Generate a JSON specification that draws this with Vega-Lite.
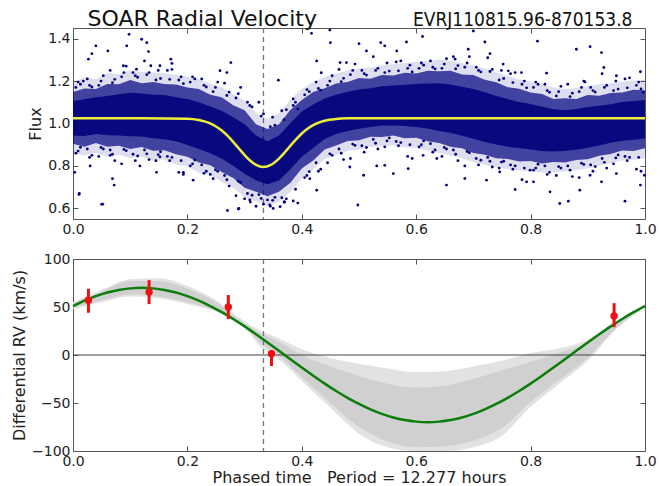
{
  "$schema": "https://vega.github.io/schema/vega-lite/v6.json",
  "padding": {"left": 11, "top": 6, "right": 2, "bottom": 0},
  "background": "white",
  "spacing": 14,
  "config": {
    "font": "DejaVu Sans",
    "view": {"stroke": "#555", "strokeWidth": 1},
    "axis": {
      "grid": false, "domain": false,
      "labelFont": "DejaVu Sans", "labelFontSize": 14, "labelColor": "#222",
      "titleFont": "DejaVu Sans", "titleFontSize": 16, "titleFontWeight": "normal", "titleColor": "#222",
      "tickColor": "#555", "tickSize": -5, "labelPadding": 8, "labelFlush": false, "labelOverlap": false
    }
  },
  "datasets": {
    "band": [
      {"x":0.00,"b":0.905,"t":1.148,"bi":0.944,"ti":1.106,"bo":0.862,"to":1.195},
      {"x":0.02,"b":0.890,"t":1.165,"bi":0.941,"ti":1.114,"bo":0.848,"to":1.218},
      {"x":0.04,"b":0.908,"t":1.163,"bi":0.951,"ti":1.124,"bo":0.861,"to":1.209},
      {"x":0.06,"b":0.890,"t":1.186,"bi":0.945,"ti":1.130,"bo":0.842,"to":1.238},
      {"x":0.08,"b":0.895,"t":1.185,"bi":0.943,"ti":1.138,"bo":0.852,"to":1.232},
      {"x":0.10,"b":0.880,"t":1.205,"bi":0.940,"ti":1.145,"bo":0.838,"to":1.251},
      {"x":0.12,"b":0.889,"t":1.190,"bi":0.939,"ti":1.141,"bo":0.843,"to":1.243},
      {"x":0.14,"b":0.872,"t":1.196,"bi":0.930,"ti":1.135,"bo":0.826,"to":1.240},
      {"x":0.16,"b":0.874,"t":1.186,"bi":0.926,"ti":1.134,"bo":0.830,"to":1.238},
      {"x":0.18,"b":0.855,"t":1.184,"bi":0.916,"ti":1.124,"bo":0.806,"to":1.229},
      {"x":0.20,"b":0.843,"t":1.170,"bi":0.899,"ti":1.116,"bo":0.799,"to":1.222},
      {"x":0.22,"b":0.816,"t":1.163,"bi":0.880,"ti":1.100,"bo":0.768,"to":1.208},
      {"x":0.24,"b":0.803,"t":1.136,"bi":0.860,"ti":1.080,"bo":0.759,"to":1.188},
      {"x":0.26,"b":0.771,"t":1.124,"bi":0.835,"ti":1.060,"bo":0.724,"to":1.171},
      {"x":0.28,"b":0.743,"t":1.086,"bi":0.801,"ti":1.029,"bo":0.697,"to":1.138},
      {"x":0.30,"b":0.697,"t":1.063,"bi":0.763,"ti":0.997,"bo":0.652,"to":1.108},
      {"x":0.32,"b":0.678,"t":0.996,"bi":0.732,"ti":0.943,"bo":0.632,"to":1.049},
      {"x":0.34,"b":0.657,"t":0.974,"bi":0.714,"ti":0.916,"bo":0.611,"to":1.020},
      {"x":0.36,"b":0.678,"t":0.996,"bi":0.732,"ti":0.943,"bo":0.630,"to":1.048},
      {"x":0.38,"b":0.721,"t":1.064,"bi":0.784,"ti":1.001,"bo":0.677,"to":1.112},
      {"x":0.40,"b":0.788,"t":1.111,"bi":0.843,"ti":1.057,"bo":0.741,"to":1.163},
      {"x":0.42,"b":0.826,"t":1.149,"bi":0.885,"ti":1.090,"bo":0.783,"to":1.195},
      {"x":0.44,"b":0.878,"t":1.166,"bi":0.927,"ti":1.118,"bo":0.831,"to":1.219},
      {"x":0.46,"b":0.896,"t":1.189,"bi":0.950,"ti":1.135,"bo":0.852,"to":1.236},
      {"x":0.48,"b":0.918,"t":1.196,"bi":0.965,"ti":1.150,"bo":0.871,"to":1.249},
      {"x":0.50,"b":0.921,"t":1.214,"bi":0.975,"ti":1.160,"bo":0.878,"to":1.260},
      {"x":0.52,"b":0.938,"t":1.211,"bi":0.984,"ti":1.166,"bo":0.891,"to":1.264},
      {"x":0.54,"b":0.936,"t":1.229,"bi":0.990,"ti":1.175,"bo":0.893,"to":1.275},
      {"x":0.56,"b":0.943,"t":1.226,"bi":0.991,"ti":1.179,"bo":0.896,"to":1.279},
      {"x":0.58,"b":0.931,"t":1.239,"bi":0.988,"ti":1.183,"bo":0.887,"to":1.285},
      {"x":0.60,"b":0.933,"t":1.236,"bi":0.984,"ti":1.186,"bo":0.885,"to":1.290},
      {"x":0.62,"b":0.916,"t":1.249,"bi":0.977,"ti":1.188,"bo":0.873,"to":1.296},
      {"x":0.64,"b":0.908,"t":1.246,"bi":0.965,"ti":1.190,"bo":0.861,"to":1.301},
      {"x":0.66,"b":0.891,"t":1.249,"bi":0.956,"ti":1.184,"bo":0.848,"to":1.295},
      {"x":0.68,"b":0.883,"t":1.231,"bi":0.942,"ti":1.173,"bo":0.836,"to":1.284},
      {"x":0.70,"b":0.861,"t":1.228,"bi":0.928,"ti":1.162,"bo":0.818,"to":1.273},
      {"x":0.72,"b":0.853,"t":1.206,"bi":0.913,"ti":1.147,"bo":0.806,"to":1.259},
      {"x":0.74,"b":0.836,"t":1.194,"bi":0.901,"ti":1.129,"bo":0.793,"to":1.240},
      {"x":0.76,"b":0.833,"t":1.171,"bi":0.890,"ti":1.115,"bo":0.786,"to":1.224},
      {"x":0.78,"b":0.821,"t":1.164,"bi":0.884,"ti":1.101,"bo":0.778,"to":1.209},
      {"x":0.80,"b":0.823,"t":1.146,"bi":0.878,"ti":1.092,"bo":0.775,"to":1.198},
      {"x":0.82,"b":0.811,"t":1.139,"bi":0.871,"ti":1.079,"bo":0.769,"to":1.184},
      {"x":0.84,"b":0.818,"t":1.116,"bi":0.868,"ti":1.067,"bo":0.770,"to":1.170},
      {"x":0.86,"b":0.816,"t":1.119,"bi":0.871,"ti":1.063,"bo":0.774,"to":1.163},
      {"x":0.88,"b":0.828,"t":1.116,"bi":0.876,"ti":1.068,"bo":0.781,"to":1.169},
      {"x":0.90,"b":0.831,"t":1.134,"bi":0.886,"ti":1.078,"bo":0.788,"to":1.178},
      {"x":0.92,"b":0.848,"t":1.131,"bi":0.896,"ti":1.084,"bo":0.801,"to":1.185},
      {"x":0.94,"b":0.856,"t":1.144,"bi":0.909,"ti":1.091,"bo":0.814,"to":1.190},
      {"x":0.96,"b":0.873,"t":1.146,"bi":0.919,"ti":1.101,"bo":0.826,"to":1.198},
      {"x":0.98,"b":0.871,"t":1.159,"bi":0.924,"ti":1.106,"bo":0.829,"to":1.203},
      {"x":1.00,"b":0.883,"t":1.157,"bi":0.929,"ti":1.111,"bo":0.836,"to":1.206}
    ],
    "pts": [
      {"x":0.005,"y":1.17},{"x":0.025,"y":1.21},{"x":0.045,"y":1.18},{"x":0.065,"y":1.25},{"x":0.085,"y":1.22},
      {"x":0.105,"y":1.24},{"x":0.125,"y":1.295},{"x":0.145,"y":1.205},{"x":0.165,"y":1.25},{"x":0.185,"y":1.205},
      {"x":0.205,"y":1.195},{"x":0.225,"y":1.21},{"x":0.245,"y":1.15},{"x":0.265,"y":1.19},{"x":0.285,"y":1.12},
      {"x":0.305,"y":1.10},{"x":0.325,"y":1.10},{"x":0.345,"y":0.985},{"x":0.365,"y":1.06},{"x":0.385,"y":1.085},
      {"x":0.405,"y":1.135},{"x":0.425,"y":1.195},{"x":0.445,"y":1.18},{"x":0.465,"y":1.255},{"x":0.485,"y":1.23},
      {"x":0.505,"y":1.25},{"x":0.525,"y":1.315},{"x":0.545,"y":1.24},{"x":0.565,"y":1.29},{"x":0.585,"y":1.26},
      {"x":0.605,"y":1.26},{"x":0.625,"y":1.295},{"x":0.645,"y":1.26},{"x":0.665,"y":1.315},{"x":0.685,"y":1.265},
      {"x":0.705,"y":1.265},{"x":0.725,"y":1.31},{"x":0.745,"y":1.205},{"x":0.765,"y":1.235},{"x":0.785,"y":1.185},
      {"x":0.805,"y":1.17},{"x":0.825,"y":1.185},{"x":0.845,"y":1.13},{"x":0.865,"y":1.185},{"x":0.885,"y":1.15},
      {"x":0.905,"y":1.17},{"x":0.925,"y":1.235},{"x":0.945,"y":1.155},{"x":0.965,"y":1.21},{"x":0.985,"y":1.18},
      {"x":0.005,"y":0.86},{"x":0.025,"y":0.88},{"x":0.045,"y":0.845},{"x":0.065,"y":0.875},{"x":0.085,"y":0.81},
      {"x":0.105,"y":0.855},{"x":0.125,"y":0.875},{"x":0.145,"y":0.825},{"x":0.165,"y":0.845},{"x":0.185,"y":0.77},
      {"x":0.205,"y":0.80},{"x":0.225,"y":0.805},{"x":0.245,"y":0.74},{"x":0.265,"y":0.755},{"x":0.285,"y":0.66},
      {"x":0.305,"y":0.67},{"x":0.325,"y":0.665},{"x":0.345,"y":0.61},{"x":0.365,"y":0.65},{"x":0.385,"y":0.635},
      {"x":0.405,"y":0.745},{"x":0.425,"y":0.815},{"x":0.445,"y":0.815},{"x":0.465,"y":0.88},{"x":0.485,"y":0.835},
      {"x":0.505,"y":0.895},{"x":0.525,"y":0.925},{"x":0.545,"y":0.89},{"x":0.565,"y":0.915},{"x":0.585,"y":0.845},
      {"x":0.605,"y":0.89},{"x":0.625,"y":0.905},{"x":0.645,"y":0.845},{"x":0.665,"y":0.875},{"x":0.685,"y":0.80},
      {"x":0.705,"y":0.835},{"x":0.725,"y":0.84},{"x":0.745,"y":0.79},{"x":0.765,"y":0.805},{"x":0.785,"y":0.735},
      {"x":0.805,"y":0.78},{"x":0.825,"y":0.80},{"x":0.845,"y":0.755},{"x":0.865,"y":0.80},{"x":0.885,"y":0.745},
      {"x":0.905,"y":0.805},{"x":0.925,"y":0.835},{"x":0.945,"y":0.81},{"x":0.965,"y":0.845},{"x":0.985,"y":0.785},
      {"x":0.013,"y":1.185},{"x":0.033,"y":1.172},{"x":0.053,"y":1.225},{"x":0.073,"y":1.208},{"x":0.093,"y":1.27},
      {"x":0.113,"y":1.218},{"x":0.133,"y":1.24},{"x":0.153,"y":1.212},{"x":0.173,"y":1.255},{"x":0.193,"y":1.188},
      {"x":0.213,"y":1.21},{"x":0.233,"y":1.172},{"x":0.253,"y":1.195},{"x":0.273,"y":1.148},{"x":0.293,"y":1.17},
      {"x":0.313,"y":1.078},{"x":0.333,"y":1.045},{"x":0.353,"y":0.992},{"x":0.373,"y":1.065},{"x":0.393,"y":1.068},
      {"x":0.413,"y":1.15},{"x":0.433,"y":1.157},{"x":0.453,"y":1.225},{"x":0.473,"y":1.213},{"x":0.493,"y":1.28},
      {"x":0.513,"y":1.228},{"x":0.533,"y":1.26},{"x":0.553,"y":1.247},{"x":0.573,"y":1.295},{"x":0.593,"y":1.243},
      {"x":0.613,"y":1.275},{"x":0.633,"y":1.257},{"x":0.653,"y":1.305},{"x":0.673,"y":1.273},{"x":0.693,"y":1.315},
      {"x":0.713,"y":1.243},{"x":0.733,"y":1.255},{"x":0.753,"y":1.212},{"x":0.773,"y":1.24},{"x":0.793,"y":1.168},
      {"x":0.813,"y":1.185},{"x":0.833,"y":1.147},{"x":0.853,"y":1.175},{"x":0.873,"y":1.143},{"x":0.893,"y":1.20},
      {"x":0.913,"y":1.148},{"x":0.933,"y":1.18},{"x":0.953,"y":1.162},{"x":0.973,"y":1.215},{"x":0.993,"y":1.163},
      {"x":0.013,"y":0.888},{"x":0.033,"y":0.85},{"x":0.053,"y":0.88},{"x":0.073,"y":0.825},{"x":0.093,"y":0.872},
      {"x":0.113,"y":0.847},{"x":0.133,"y":0.83},{"x":0.153,"y":0.867},{"x":0.173,"y":0.84},{"x":0.193,"y":0.76},
      {"x":0.213,"y":0.828},{"x":0.233,"y":0.775},{"x":0.253,"y":0.775},{"x":0.273,"y":0.705},{"x":0.293,"y":0.722},
      {"x":0.313,"y":0.662},{"x":0.333,"y":0.62},{"x":0.353,"y":0.652},{"x":0.373,"y":0.645},{"x":0.393,"y":0.625},
      {"x":0.413,"y":0.773},{"x":0.433,"y":0.785},{"x":0.453,"y":0.85},{"x":0.473,"y":0.83},{"x":0.493,"y":0.897},
      {"x":0.513,"y":0.887},{"x":0.533,"y":0.88},{"x":0.553,"y":0.932},{"x":0.573,"y":0.91},{"x":0.593,"y":0.835},
      {"x":0.613,"y":0.918},{"x":0.633,"y":0.875},{"x":0.653,"y":0.88},{"x":0.673,"y":0.825},{"x":0.693,"y":0.862},
      {"x":0.713,"y":0.827},{"x":0.733,"y":0.795},{"x":0.753,"y":0.822},{"x":0.773,"y":0.80},{"x":0.793,"y":0.725},
      {"x":0.813,"y":0.808},{"x":0.833,"y":0.77},{"x":0.853,"y":0.79},{"x":0.873,"y":0.75},{"x":0.893,"y":0.807},
      {"x":0.913,"y":0.797},{"x":0.933,"y":0.79},{"x":0.953,"y":0.852},{"x":0.973,"y":0.84},{"x":0.993,"y":0.775},
      {"x":0.009,"y":1.195},{"x":0.029,"y":1.18},{"x":0.049,"y":1.20},{"x":0.069,"y":1.192},{"x":0.089,"y":1.24},
      {"x":0.109,"y":1.225},{"x":0.129,"y":1.23},{"x":0.149,"y":1.25},{"x":0.169,"y":1.208},{"x":0.189,"y":1.22},
      {"x":0.209,"y":1.22},{"x":0.229,"y":1.18},{"x":0.249,"y":1.17},{"x":0.269,"y":1.132},{"x":0.289,"y":1.14},
      {"x":0.309,"y":1.085},{"x":0.329,"y":1.035},{"x":0.349,"y":1.03},{"x":0.369,"y":1.018},{"x":0.389,"y":1.10},
      {"x":0.409,"y":1.16},{"x":0.429,"y":1.165},{"x":0.449,"y":1.20},{"x":0.469,"y":1.197},{"x":0.489,"y":1.25},
      {"x":0.509,"y":1.235},{"x":0.529,"y":1.25},{"x":0.549,"y":1.285},{"x":0.569,"y":1.248},{"x":0.589,"y":1.275},
      {"x":0.609,"y":1.285},{"x":0.629,"y":1.265},{"x":0.649,"y":1.28},{"x":0.669,"y":1.257},{"x":0.689,"y":1.285},
      {"x":0.709,"y":1.25},{"x":0.729,"y":1.245},{"x":0.749,"y":1.25},{"x":0.769,"y":1.193},{"x":0.789,"y":1.20},
      {"x":0.809,"y":1.195},{"x":0.829,"y":1.155},{"x":0.849,"y":1.15},{"x":0.869,"y":1.127},{"x":0.889,"y":1.17},
      {"x":0.909,"y":1.155},{"x":0.929,"y":1.17},{"x":0.949,"y":1.20},{"x":0.969,"y":1.168},{"x":0.989,"y":1.195},
      {"x":0.009,"y":0.87},{"x":0.029,"y":0.84},{"x":0.049,"y":0.887},{"x":0.069,"y":0.855},{"x":0.089,"y":0.878},
      {"x":0.109,"y":0.825},{"x":0.129,"y":0.857},{"x":0.149,"y":0.853},{"x":0.169,"y":0.825},{"x":0.189,"y":0.825},
      {"x":0.209,"y":0.81},{"x":0.229,"y":0.765},{"x":0.249,"y":0.782},{"x":0.269,"y":0.735},{"x":0.289,"y":0.728},
      {"x":0.309,"y":0.64},{"x":0.329,"y":0.647},{"x":0.349,"y":0.638},{"x":0.369,"y":0.63},{"x":0.389,"y":0.69},
      {"x":0.409,"y":0.755},{"x":0.429,"y":0.775},{"x":0.449,"y":0.857},{"x":0.469,"y":0.86},{"x":0.489,"y":0.903},
      {"x":0.509,"y":0.865},{"x":0.529,"y":0.907},{"x":0.549,"y":0.918},{"x":0.569,"y":0.895},{"x":0.589,"y":0.90},
      {"x":0.609,"y":0.90},{"x":0.629,"y":0.865},{"x":0.649,"y":0.887},{"x":0.669,"y":0.855},{"x":0.689,"y":0.868},
      {"x":0.709,"y":0.805},{"x":0.729,"y":0.822},{"x":0.749,"y":0.818},{"x":0.769,"y":0.785},{"x":0.789,"y":0.79},
      {"x":0.809,"y":0.79},{"x":0.829,"y":0.76},{"x":0.849,"y":0.797},{"x":0.869,"y":0.78},{"x":0.889,"y":0.813},
      {"x":0.909,"y":0.775},{"x":0.929,"y":0.817},{"x":0.949,"y":0.838},{"x":0.969,"y":0.825},{"x":0.989,"y":0.84},
      {"x":0.098,"y":1.42},{"x":0.12,"y":1.397},{"x":0.129,"y":1.381},{"x":0.04,"y":1.366},{"x":0.094,"y":1.366},
      {"x":0.132,"y":1.339},{"x":0.033,"y":1.329},{"x":0.061,"y":1.342},{"x":0.027,"y":1.303},{"x":0.171,"y":1.303},
      {"x":0.173,"y":1.283},{"x":0.276,"y":1.287},{"x":0.088,"y":1.272},{"x":0.111,"y":1.256},{"x":0.136,"y":1.272},
      {"x":0.152,"y":1.272},{"x":0.257,"y":1.249},{"x":0.269,"y":1.24},{"x":0.018,"y":1.2},
      {"x":0.011,"y":0.67},{"x":0.052,"y":0.62},{"x":0.072,"y":0.71},{"x":0.069,"y":0.74},{"x":0.03,"y":0.80},
      {"x":0.003,"y":0.77},{"x":0.117,"y":0.80},{"x":0.146,"y":0.77},{"x":0.21,"y":0.733},{"x":0.289,"y":0.597},
      {"x":0.24,"y":0.76},{"x":0.193,"y":0.77},{"x":0.065,"y":0.85},{"x":0.152,"y":0.843},
      {"x":0.417,"y":1.425},{"x":0.449,"y":1.44},{"x":0.5,"y":1.376},{"x":0.45,"y":1.381},{"x":0.513,"y":1.342},
      {"x":0.538,"y":1.381},{"x":0.545,"y":1.366},{"x":0.583,"y":1.384},{"x":0.611,"y":1.41},{"x":0.359,"y":1.204},
      {"x":0.385,"y":1.116},{"x":0.426,"y":1.295},{"x":0.434,"y":1.239},{"x":0.467,"y":1.287},{"x":0.478,"y":1.287},
      {"x":0.566,"y":1.342},
      {"x":0.426,"y":0.686},{"x":0.498,"y":0.616},{"x":0.362,"y":0.608},{"x":0.344,"y":0.616},{"x":0.56,"y":0.764},
      {"x":0.545,"y":0.803},{"x":0.586,"y":0.787},{"x":0.612,"y":0.85},{"x":0.508,"y":0.756},{"x":0.531,"y":0.80},
      {"x":0.484,"y":0.795},{"x":0.414,"y":0.74},{"x":0.636,"y":0.835},{"x":0.653,"y":0.71},
      {"x":0.7,"y":1.436},{"x":0.812,"y":1.388},{"x":0.88,"y":1.35},{"x":0.904,"y":1.362},{"x":0.924,"y":1.334},
      {"x":0.729,"y":1.329},{"x":0.72,"y":1.384},{"x":0.691,"y":1.35},{"x":0.668,"y":1.303},{"x":0.752,"y":1.28},
      {"x":0.761,"y":1.248},{"x":0.784,"y":1.24},{"x":0.828,"y":1.237},{"x":0.895,"y":1.196},{"x":0.928,"y":1.264},
      {"x":0.95,"y":1.225},{"x":0.992,"y":1.244},{"x":0.997,"y":1.147},{"x":0.999,"y":0.756},
      {"x":0.851,"y":0.623},{"x":0.866,"y":0.634},{"x":0.965,"y":0.634},{"x":0.886,"y":0.686},{"x":0.834,"y":0.678},
      {"x":0.773,"y":0.689},{"x":0.723,"y":0.733},{"x":0.685,"y":0.741},{"x":0.805,"y":0.725},{"x":0.924,"y":0.725},
      {"x":0.95,"y":0.764},{"x":0.992,"y":0.71},{"x":0.799,"y":0.78},{"x":0.904,"y":0.756},{"x":0.746,"y":0.772},
      {"x":0.0105,"y":0.666},{"x":0.05,"y":0.619},{"x":0.29,"y":0.60},{"x":0.31,"y":0.63},{"x":0.35,"y":0.60},
      {"x":0.32,"y":0.61},{"x":0.37,"y":0.63},{"x":0.27,"y":0.59},{"x":0.30,"y":0.645},{"x":0.34,"y":0.64}
    ],
    "fit": [
      {"x":0.0,"y":1.025},{"x":0.1,"y":1.025},{"x":0.2,"y":1.0226},{"x":0.22,"y":1.0165},{"x":0.24,"y":1.0004},
      {"x":0.25,"y":0.986},{"x":0.26,"y":0.967},{"x":0.27,"y":0.9425},{"x":0.28,"y":0.9137},{"x":0.29,"y":0.8823},
      {"x":0.30,"y":0.8514},{"x":0.31,"y":0.8244},{"x":0.32,"y":0.805},{"x":0.333,"y":0.795},{"x":0.345,"y":0.8034},
      {"x":0.35,"y":0.8115},{"x":0.36,"y":0.8345},{"x":0.37,"y":0.8635},{"x":0.38,"y":0.895},{"x":0.39,"y":0.9256},
      {"x":0.40,"y":0.9529},{"x":0.41,"y":0.9753},{"x":0.42,"y":0.9924},{"x":0.43,"y":1.0048},{"x":0.44,"y":1.013},
      {"x":0.46,"y":1.0214},{"x":0.48,"y":1.0243},{"x":0.5,"y":1.025},{"x":0.7,"y":1.025},{"x":1.0,"y":1.025}
    ],
    "rvband": [
      {"x":0.00,"lo":48,"hi":55,"li":49,"hin":54},
      {"x":0.05,"lo":55,"hi":68,"li":57,"hin":66},
      {"x":0.10,"lo":61,"hi":79,"li":63,"hin":77},
      {"x":0.15,"lo":59,"hi":80,"li":61,"hin":77},
      {"x":0.20,"lo":53,"hi":72,"li":55,"hin":69},
      {"x":0.25,"lo":45,"hi":57,"li":46,"hin":55},
      {"x":0.27,"lo":40,"hi":48,"li":41,"hin":46},
      {"x":0.30,"lo":28,"hi":35,"li":29.5,"hin":33},
      {"x":0.333,"lo":6,"hi":24,"li":10,"hin":21},
      {"x":0.35,"lo":0,"hi":20,"li":4,"hin":17},
      {"x":0.40,"lo":-27,"hi":6,"li":-23,"hin":0},
      {"x":0.45,"lo":-55,"hi":-3,"li":-50,"hin":-12},
      {"x":0.50,"lo":-82,"hi":-9,"li":-75,"hin":-22},
      {"x":0.55,"lo":-96,"hi":-14,"li":-90,"hin":-30},
      {"x":0.60,"lo":-100,"hi":-18,"li":-96,"hin":-34},
      {"x":0.65,"lo":-100,"hi":-17,"li":-95,"hin":-32},
      {"x":0.70,"lo":-96,"hi":-12,"li":-89,"hin":-25},
      {"x":0.75,"lo":-84,"hi":-6,"li":-76,"hin":-16},
      {"x":0.80,"lo":-54,"hi":2,"li":-49,"hin":-7},
      {"x":0.85,"lo":-30,"hi":7,"li":-26,"hin":2},
      {"x":0.90,"lo":-6,"hi":16,"li":-3,"hin":13},
      {"x":0.95,"lo":27,"hi":34,"li":28,"hin":33},
      {"x":1.00,"lo":50,"hi":53,"li":50.5,"hin":52.5}
    ],
    "rvfit": [
      {"x":0.00,"y":51.0},{"x":0.02,"y":56.6},{"x":0.04,"y":61.3},{"x":0.06,"y":65.1},{"x":0.08,"y":67.8},
      {"x":0.10,"y":69.4},{"x":0.12,"y":70.0},{"x":0.14,"y":69.4},{"x":0.16,"y":67.8},{"x":0.18,"y":65.1},
      {"x":0.20,"y":61.3},{"x":0.22,"y":56.6},{"x":0.24,"y":51.0},{"x":0.26,"y":44.6},{"x":0.28,"y":37.5},
      {"x":0.30,"y":29.8},{"x":0.32,"y":21.6},{"x":0.34,"y":13.1},{"x":0.36,"y":4.4},{"x":0.38,"y":-4.4},
      {"x":0.40,"y":-13.1},{"x":0.42,"y":-21.6},{"x":0.44,"y":-29.8},{"x":0.46,"y":-37.5},{"x":0.48,"y":-44.6},
      {"x":0.50,"y":-51.0},{"x":0.52,"y":-56.6},{"x":0.54,"y":-61.3},{"x":0.56,"y":-65.1},{"x":0.58,"y":-67.8},
      {"x":0.60,"y":-69.4},{"x":0.62,"y":-70.0},{"x":0.64,"y":-69.4},{"x":0.66,"y":-67.8},{"x":0.68,"y":-65.1},
      {"x":0.70,"y":-61.3},{"x":0.72,"y":-56.6},{"x":0.74,"y":-51.0},{"x":0.76,"y":-44.6},{"x":0.78,"y":-37.5},
      {"x":0.80,"y":-29.8},{"x":0.82,"y":-21.6},{"x":0.84,"y":-13.1},{"x":0.86,"y":-4.4},{"x":0.88,"y":4.4},
      {"x":0.90,"y":13.1},{"x":0.92,"y":21.6},{"x":0.94,"y":29.8},{"x":0.96,"y":37.5},{"x":0.98,"y":44.6},
      {"x":1.00,"y":51.0}
    ],
    "rv": [
      {"x":0.027,"y":57,"lo":44,"hi":69},
      {"x":0.133,"y":65.5,"lo":53,"hi":78},
      {"x":0.2715,"y":50,"lo":37.5,"hi":62.5},
      {"x":0.347,"y":1.4,"lo":-11.5,"hi":5},
      {"x":0.946,"y":40.7,"lo":29,"hi":54}
    ]
  },
  "vconcat": [
    {
      "width": 572, "height": 191,
      "layer": [
        {
          "data": {"values": [{"x": 0.333}]},
          "mark": {"type": "rule", "color": "#777", "strokeDash": [5, 4], "strokeWidth": 1.3},
          "encoding": {"x": {"field": "x", "type": "quantitative", "scale": {"domain": [0, 1], "nice": false}, "axis": null}}
        },
        {
          "data": {"name": "band"},
          "mark": {"type": "area", "color": "#000080", "opacity": 0.13},
          "encoding": {
            "x": {"field": "x", "type": "quantitative", "scale": {"domain": [0, 1], "nice": false},
                  "axis": {"values": [0, 0.2, 0.4, 0.6, 0.8, 1], "format": ".1f", "title": null}},
            "y": {"field": "bo", "type": "quantitative", "scale": {"domain": [0.55, 1.45], "nice": false, "zero": false},
                  "axis": {"values": [0.6, 0.8, 1.0, 1.2, 1.4], "format": ".1f", "title": "Flux"}},
            "y2": {"field": "to"}
          }
        },
        {
          "data": {"name": "band"},
          "mark": {"type": "area", "color": "#000080", "opacity": 0.7},
          "encoding": {
            "x": {"field": "x", "type": "quantitative",
                  "axis": {"orient": "top", "labels": false, "values": [0, 0.2, 0.4, 0.6, 0.8, 1],
                           "title": "SOAR Radial Velocity", "titleFontSize": 22, "titleColor": "#111",
                           "titleX": 14, "titleY": -3, "titleAlign": "left", "titleBaseline": "alphabetic", "titleAngle": 0}},
            "y": {"field": "b", "type": "quantitative",
                  "axis": {"orient": "right", "labels": false, "values": [0.6, 0.8, 1.0, 1.2, 1.4],
                           "title": "EVRJ110815.96-870153.8", "titleFont": "Liberation Sans Narrow, DejaVu Sans Condensed, DejaVu Sans",
                           "titleFontSize": 19, "titleColor": "#111",
                           "titleX": -13, "titleY": -3, "titleAlign": "right", "titleBaseline": "alphabetic", "titleAngle": 0}},
            "y2": {"field": "t"}
          }
        },
        {
          "data": {"name": "band"},
          "mark": {"type": "area", "color": "#00007a", "opacity": 0.88},
          "encoding": {
            "x": {"field": "x", "type": "quantitative", "axis": null},
            "y": {"field": "bi", "type": "quantitative", "axis": null},
            "y2": {"field": "ti"}
          }
        },
        {
          "data": {"name": "pts"},
          "mark": {"type": "circle", "color": "#000080", "size": 8, "opacity": 1},
          "encoding": {
            "x": {"field": "x", "type": "quantitative", "axis": null},
            "y": {"field": "y", "type": "quantitative", "axis": null}
          }
        },
        {
          "data": {"name": "fit"},
          "mark": {"type": "line", "color": "#eded3a", "strokeWidth": 2.5, "interpolate": "monotone"},
          "encoding": {
            "x": {"field": "x", "type": "quantitative", "axis": null},
            "y": {"field": "y", "type": "quantitative", "axis": null}
          }
        }
      ],
      "resolve": {"axis": {"x": "independent", "y": "independent"}}
    },
    {
      "width": 572, "height": 192,
      "layer": [
        {
          "data": {"name": "rvband"},
          "mark": {"type": "area", "color": "#e2e2e2", "interpolate": "monotone"},
          "encoding": {
            "x": {"field": "x", "type": "quantitative", "scale": {"domain": [0, 1], "nice": false},
                  "axis": {"values": [0, 0.2, 0.4, 0.6, 0.8, 1], "format": ".1f", "titlePadding": 1,
                           "title": "Phased\u00a0time\u00a0\u00a0\u00a0Period\u00a0=\u00a012.277\u00a0hours"}},
            "y": {"field": "lo", "type": "quantitative", "scale": {"domain": [-100, 100], "nice": false, "zero": false},
                  "axis": {"values": [-100, -50, 0, 50, 100], "title": "Differential RV (km/s)"}},
            "y2": {"field": "hi"}
          }
        },
        {
          "data": {"name": "rvband"},
          "mark": {"type": "area", "color": "#d0d0d0", "interpolate": "monotone"},
          "encoding": {
            "x": {"field": "x", "type": "quantitative",
                  "axis": {"orient": "top", "labels": false, "values": [0, 0.2, 0.4, 0.6, 0.8, 1], "title": null}},
            "y": {"field": "li", "type": "quantitative",
                  "axis": {"orient": "right", "labels": false, "values": [-100, -50, 0, 50, 100], "title": null}},
            "y2": {"field": "hin"}
          }
        },
        {
          "data": {"values": [{"x": 0.333}]},
          "mark": {"type": "rule", "color": "#777", "strokeDash": [5, 4], "strokeWidth": 1.3},
          "encoding": {"x": {"field": "x", "type": "quantitative", "axis": null}}
        },
        {
          "data": {"values": [{"y": 0}]},
          "mark": {"type": "rule", "color": "#444", "strokeWidth": 1},
          "encoding": {"y": {"field": "y", "type": "quantitative", "axis": null}}
        },
        {
          "data": {"name": "rvfit"},
          "mark": {"type": "line", "color": "#0b7d0b", "strokeWidth": 2.5, "interpolate": "monotone"},
          "encoding": {
            "x": {"field": "x", "type": "quantitative", "axis": null},
            "y": {"field": "y", "type": "quantitative", "axis": null}
          }
        },
        {
          "data": {"name": "rv"},
          "mark": {"type": "rule", "color": "#ee1111", "strokeWidth": 3},
          "encoding": {
            "x": {"field": "x", "type": "quantitative", "axis": null},
            "y": {"field": "lo", "type": "quantitative", "axis": null},
            "y2": {"field": "hi"}
          }
        },
        {
          "data": {"name": "rv"},
          "mark": {"type": "circle", "color": "#ee1111", "size": 55, "opacity": 1},
          "encoding": {
            "x": {"field": "x", "type": "quantitative", "axis": null},
            "y": {"field": "y", "type": "quantitative", "axis": null}
          }
        }
      ],
      "resolve": {"axis": {"x": "independent", "y": "independent"}}
    }
  ]
}
